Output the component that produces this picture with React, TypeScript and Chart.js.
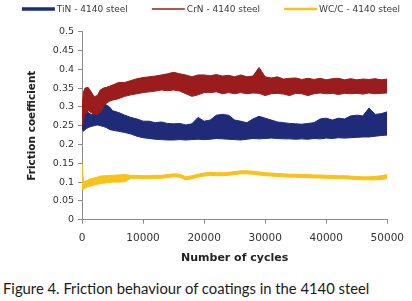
import React, { useEffect, useRef } from 'react';
import { Chart, registerables } from 'chart.js';

Chart.register(...registerables);

// Number of cycles at which the band envelopes were read
const cycles = [
  0, 250, 500, 1000, 1500, 2000, 2500, 3000, 3500, 4000, 4500, 5000,
  6000, 7000, 8000, 9000, 10000, 11000, 12000, 13000, 14000, 15000, 16000, 17000, 18000, 19000,
  20000, 21000, 22000, 23000, 24000, 25000, 26000, 27000, 28000, 29000,
  30000, 31000, 32000, 33000, 34000, 35000, 36000, 37000, 38000, 39000,
  40000, 41000, 42000, 43000, 44000, 45000, 46000, 47000, 48000, 49000, 50000,
];

// TiN - 4140 steel: upper / lower edge of the noisy band
const tinHigh = [
  0.31, 0.30, 0.29, 0.285, 0.28, 0.282, 0.29, 0.30, 0.31, 0.305, 0.30, 0.29,
  0.285, 0.278, 0.272, 0.268, 0.262, 0.262, 0.258, 0.26, 0.256, 0.255, 0.256, 0.252, 0.255, 0.272,
  0.262, 0.265, 0.278, 0.28, 0.278, 0.265, 0.262, 0.258, 0.268, 0.275,
  0.27, 0.265, 0.26, 0.258, 0.256, 0.255, 0.254, 0.256, 0.258, 0.268,
  0.27, 0.265, 0.27, 0.268, 0.276, 0.278, 0.276, 0.297, 0.28, 0.282, 0.287,
];
const tinLow = [
  0.24, 0.235, 0.24, 0.245, 0.248, 0.25, 0.252, 0.25, 0.248, 0.245, 0.24, 0.238,
  0.235, 0.232, 0.228, 0.222, 0.218, 0.216, 0.214, 0.213, 0.212, 0.212, 0.213, 0.212, 0.213, 0.214,
  0.213, 0.214, 0.216, 0.215, 0.214, 0.213, 0.212, 0.214, 0.216, 0.215,
  0.216, 0.217, 0.216, 0.215, 0.215, 0.214, 0.215, 0.214, 0.216, 0.215,
  0.217, 0.216, 0.218, 0.217, 0.218, 0.219, 0.22, 0.22, 0.222, 0.224, 0.225,
];

// CrN - 4140 steel
const crnHigh = [
  0.30, 0.34, 0.35, 0.352, 0.34, 0.327, 0.33, 0.345, 0.35, 0.352, 0.355, 0.358,
  0.365, 0.365, 0.37, 0.375, 0.378, 0.38, 0.382, 0.385, 0.388, 0.392, 0.388, 0.385, 0.38, 0.385,
  0.385, 0.383, 0.386, 0.382, 0.384, 0.38, 0.385, 0.38, 0.382, 0.405,
  0.38, 0.377, 0.38, 0.374, 0.376, 0.377, 0.373, 0.376, 0.373, 0.376,
  0.372, 0.375, 0.376, 0.372, 0.375, 0.372, 0.374, 0.373, 0.375, 0.372, 0.374,
];
const crnLow = [
  0.25, 0.27, 0.28, 0.29, 0.285, 0.28, 0.28, 0.285, 0.30, 0.31, 0.315, 0.318,
  0.322, 0.328, 0.332, 0.335, 0.338, 0.34, 0.342, 0.345, 0.343, 0.345, 0.342, 0.335, 0.328, 0.332,
  0.338, 0.338, 0.34, 0.335, 0.338, 0.335, 0.338, 0.335, 0.337, 0.336,
  0.33, 0.335, 0.336, 0.334, 0.33, 0.336, 0.335, 0.33, 0.335, 0.337,
  0.335, 0.336, 0.333, 0.336, 0.335, 0.336, 0.334, 0.337, 0.335, 0.336, 0.337,
];

// WC/C - 4140 steel
const wccHigh = [
  0.15, 0.10, 0.102, 0.106, 0.109, 0.111, 0.113, 0.116, 0.117, 0.117, 0.118, 0.118,
  0.119, 0.12, 0.118, 0.118, 0.117, 0.117, 0.118, 0.118, 0.12, 0.122, 0.121, 0.114, 0.117, 0.121,
  0.124, 0.126, 0.125, 0.125, 0.126, 0.128, 0.13, 0.13, 0.129, 0.127,
  0.125, 0.124, 0.123, 0.122, 0.121, 0.121, 0.12, 0.12, 0.119, 0.119,
  0.118, 0.118, 0.117, 0.117, 0.116, 0.115, 0.114, 0.114, 0.115, 0.117, 0.12,
];
const wccLow = [
  0.08, 0.08, 0.084, 0.088, 0.09, 0.092, 0.094, 0.096, 0.097, 0.098, 0.099, 0.10,
  0.10, 0.101, 0.11, 0.11, 0.109, 0.109, 0.11, 0.11, 0.112, 0.114, 0.113, 0.106, 0.109, 0.113,
  0.116, 0.118, 0.117, 0.117, 0.118, 0.12, 0.122, 0.122, 0.121, 0.119,
  0.117, 0.116, 0.115, 0.114, 0.113, 0.113, 0.112, 0.112, 0.111, 0.111,
  0.11, 0.11, 0.109, 0.109, 0.108, 0.107, 0.106, 0.106, 0.106, 0.107, 0.109,
];

const seriesLabels = ['TiN - 4140 steel', 'CrN - 4140 steel', 'WC/C - 4140 steel'];
const seriesColors = ['#1f2a78', '#9b1c1c', '#f8c21a'];
const legendLineWidths = [3.5, 1.5, 2.5];

const captionText = 'Figure 4. Friction behaviour of coatings in the 4140 steel';

const W = 412;
const H = 270;

export default function App() {
  const ref = useRef<HTMLCanvasElement>(null);

  useEffect(() => {
    if (!ref.current) return;
    const pts = (ys: number[]) => cycles.map((x, i) => ({ x, y: ys[i] }));
    const band = (idx: number, hi: number[], lo: number[], order: number) => [
      {
        label: seriesLabels[idx],
        data: pts(hi),
        borderColor: seriesColors[idx],
        backgroundColor: seriesColors[idx],
        borderWidth: 1,
        pointRadius: 0,
        fill: '+1',
        order,
      },
      {
        label: seriesLabels[idx] + ' (lower)',
        data: pts(lo),
        borderColor: seriesColors[idx],
        backgroundColor: seriesColors[idx],
        borderWidth: 1,
        pointRadius: 0,
        fill: false,
        order,
      },
    ];

    const legendPlugin = {
      id: 'topLegend',
      afterDraw(chart: any) {
        const ctx = chart.ctx;
        ctx.save();
        ctx.font = '9px "DejaVu Sans"';
        const lineLen = 33;
        const gap = 2;
        const pad = 24;
        const widths = seriesLabels.map((t) => lineLen + gap + ctx.measureText(t).width);
        const total = widths.reduce((a, b) => a + b, 0) + pad * (widths.length - 1);
        let x = (chart.width - total) / 2 + 5;
        const y = 9;
        seriesLabels.forEach((t, i) => {
          ctx.strokeStyle = seriesColors[i];
          ctx.lineWidth = legendLineWidths[i];
          ctx.beginPath();
          ctx.moveTo(x, y);
          ctx.lineTo(x + lineLen, y);
          ctx.stroke();
          ctx.fillStyle = '#3a3a3a';
          ctx.textBaseline = 'middle';
          ctx.textAlign = 'left';
          ctx.fillText(t, x + lineLen + gap, y + 0.5);
          x += widths[i] + pad;
        });
        ctx.restore();
      },
    };

    const axisColor = '#8a8a8a';
    const chart = new Chart(ref.current, {
      type: 'line',
      data: {
        datasets: [
          ...band(0, tinHigh, tinLow, 1),
          ...band(1, crnHigh, crnLow, 0),
          ...band(2, wccHigh, wccLow, 0),
        ] as any,
      },
      options: {
        animation: false,
        responsive: false,
        layout: { padding: { top: 31.7, right: 22, bottom: 0, left: 0 } },
        plugins: { legend: { display: false }, tooltip: { enabled: false } },
        scales: {
          x: {
            type: 'linear',
            min: 0,
            max: 50000,
            ticks: {
              stepSize: 10000,
              callback: (v: any) => String(v),
              font: { family: 'DejaVu Sans', size: 10.5 },
              color: '#333',
              padding: 8,
              maxRotation: 0,
            },
            grid: { display: true, drawOnChartArea: false, drawTicks: true, tickLength: 4, color: axisColor },
            border: { display: true, color: axisColor, width: 1 },
            title: {
              display: true,
              text: 'Number of cycles',
              font: { family: 'DejaVu Sans', size: 11, weight: 'bold' },
              color: '#222',
              padding: { top: 0, bottom: 5.4 },
            },
            afterFit: (s: any) => {
              s.height = 50.3;
            },
          },
          y: {
            type: 'linear',
            min: 0,
            max: 0.5,
            ticks: {
              stepSize: 0.05,
              callback: (v: any) => String(Number(Number(v).toFixed(2))),
              font: { family: 'DejaVu Sans', size: 9.5 },
              color: '#333',
              padding: 4,
            },
            grid: { display: true, drawOnChartArea: false, drawTicks: true, tickLength: 4, color: axisColor },
            border: { display: true, color: axisColor, width: 1 },
            title: {
              display: true,
              text: 'Friction coefficient',
              font: { family: 'DejaVu Sans', size: 10.5, weight: 'bold' },
              color: '#222',
              padding: { top: 26.2, bottom: 0 },
            },
            afterFit: (s: any) => {
              s.width = 82;
            },
          },
        },
      } as any,
      plugins: [legendPlugin],
    });
    return () => chart.destroy();
  }, []);

  return (
    <div style={{ position: 'absolute', left: 0, top: 0, width: W, height: 301, background: '#fff' }}>
      <canvas ref={ref} width={W} height={H} style={{ display: 'block', width: W, height: H }} />
      <div
        style={{
          position: 'absolute',
          left: 3,
          top: 279.5,
          fontFamily: 'Lato, "Open Sans", sans-serif',
          fontSize: 14.8,
          lineHeight: 1.2,
          color: '#1a1a1a',
          whiteSpace: 'nowrap',
        }}
      >
        {captionText}
      </div>
    </div>
  );
}
